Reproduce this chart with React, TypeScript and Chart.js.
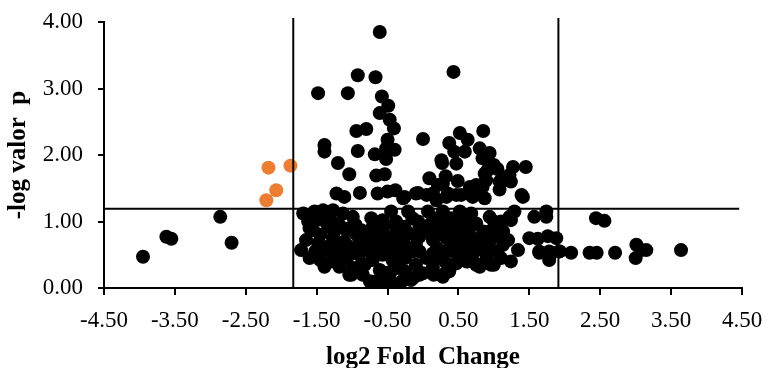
import { useEffect, useRef } from "react";
import { Chart, registerables } from "chart.js";

Chart.register(...registerables);

// [log2 fold change, -log10 p] for genes outside the significance window
const otherGenes: [number, number][] = [
  // far left
  [-3.95, 0.47], [-3.62, 0.77], [-3.55, 0.74], [-2.86, 1.07], [-2.7, 0.68],
  // upper group
  [-0.61, 3.85], [0.43, 3.25], [-0.92, 3.2], [-0.67, 3.17], [-1.48, 2.93], [-1.06, 2.93],
  [-0.58, 2.88], [-0.49, 2.74], [-0.61, 2.63], [-0.47, 2.53], [-0.41, 2.4], [-0.94, 2.36],
  [-0.8, 2.39], [0.85, 2.36], [0.0, 2.24], [0.52, 2.33], [0.63, 2.23], [0.37, 2.18],
  [-1.39, 2.15], [-1.39, 2.05], [-0.92, 2.06], [-0.5, 2.23], [-0.52, 2.1], [-0.4, 2.08],
  [-0.68, 2.01], [0.44, 2.05], [0.59, 2.05], [0.8, 2.1], [0.94, 2.03], [0.26, 1.92],
  [-1.2, 1.88], [-1.04, 1.71], [-0.66, 1.69], [-0.54, 1.71], [-0.52, 1.94],
  [-1.22, 1.42], [-1.11, 1.37], [-0.89, 1.43], [-0.64, 1.42], [-0.5, 1.45], [-0.39, 1.47],
  [-0.26, 1.37], [-0.07, 1.43], [0.09, 1.65], [0.27, 1.88], [0.32, 1.68], [0.28, 1.57],
  [0.49, 1.61], [0.47, 1.87], [0.84, 1.95], [0.91, 1.77], [1.05, 1.79], [1.27, 1.82],
  [1.45, 1.82], [1.22, 1.7], [1.08, 1.6], [1.24, 1.6], [0.89, 1.62], [0.84, 1.52],
  [1.08, 1.48], [1.39, 1.4], [0.75, 1.47], [0.66, 1.42], [0.54, 1.4], [0.14, 1.42],
  [0.05, 1.4], [0.87, 1.72], [0.75, 1.55], [0.21, 1.55], [0.35, 1.42], [0.7, 1.37],
  [0.66, 1.52], [0.87, 1.35], [-0.28, 1.35], [-0.1, 1.42], [0.19, 1.32], [1.41, 1.37],
  [0.33, 1.37], [0.47, 1.4], [1.13, 1.62], [1.0, 1.85],
  // right side
  [2.44, 1.05], [2.56, 1.01], [3.64, 0.57], [3.01, 0.65], [3.0, 0.45], [3.15, 0.57],
  [3.08, 0.57], [2.71, 0.53], [2.45, 0.53], [2.35, 0.53], [2.09, 0.53], [1.93, 0.55],
  [1.78, 0.45], [1.64, 0.53], [1.5, 0.75], [1.76, 0.78], [1.88, 0.75], [1.62, 0.74],
  [1.57, 1.07], [1.74, 1.15], [1.74, 1.07], [1.34, 0.57], [1.24, 0.4], [1.13, 0.85],
  [1.01, 0.85], [1.13, 0.65], [0.84, 0.75], [0.94, 1.07], [1.29, 1.15], [1.24, 1.02],
  [1.22, 1.07], [1.64, 0.55], [1.78, 0.55], [1.92, 0.55], [1.78, 0.42],
  // central cluster
  [-1.69, 1.12], [-1.53, 1.15], [-1.41, 1.17], [-1.27, 1.17], [-1.13, 1.12], [-0.99, 1.07],
  [-0.73, 1.05], [-0.57, 1.02], [-1.55, 0.87], [-1.34, 0.92], [-1.18, 0.95], [-1.04, 0.9],
  [-0.87, 0.87], [-0.71, 0.92], [-0.57, 0.82], [-1.22, 0.92], [-1.08, 0.87],
  [-1.27, 0.75], [-1.11, 0.7], [-0.9, 0.72], [-0.66, 0.67], [-1.48, 0.67], [-1.08, 0.65],
  [-0.75, 0.67], [-0.57, 0.72], [-1.72, 0.57], [-1.6, 0.45], [-1.41, 0.57], [-1.27, 0.52],
  [-1.06, 0.47], [-0.9, 0.5], [-0.73, 0.52], [-0.54, 0.57], [-0.8, 0.6], [-0.57, 0.5],
  [-1.39, 0.32], [-1.18, 0.32], [-1.01, 0.2], [-0.82, 0.35], [-0.61, 0.27], [-0.75, 0.1],
  [-0.61, 0.1], [-1.13, 0.42], [-0.71, 0.42], [-0.43, 0.42], [-0.99, 0.3], [-0.33, 0.3],
  [-0.66, 0.1], [-0.47, 0.12], [-1.04, 0.2],
  [-0.45, 1.15], [-0.21, 1.15], [0.07, 1.15], [0.28, 1.15], [0.52, 1.15], [0.68, 1.12],
  [-0.54, 0.95], [-0.38, 1.0], [-0.26, 0.92], [-0.07, 1.0], [0.12, 0.97], [0.33, 0.97],
  [0.54, 1.0], [0.7, 0.95], [-0.38, 0.92], [0.09, 0.95], [0.28, 0.97], [0.47, 0.95],
  [0.61, 0.9], [0.75, 0.97], [0.94, 0.85],
  [-0.4, 0.8], [-0.05, 0.77], [0.14, 0.75], [0.33, 0.75], [0.52, 0.75], [0.68, 0.77],
  [-0.28, 0.7], [0.14, 0.72], [0.37, 0.72], [0.56, 0.7], [0.75, 0.65], [0.94, 0.7],
  [1.08, 0.77],
  [-0.57, 0.62], [-0.38, 0.62], [-0.14, 0.57], [0.14, 0.52], [-0.14, 0.55], [0.56, 0.57],
  [0.75, 0.6], [0.94, 0.57], [0.84, 0.57], [0.96, 0.57],
  [0.33, 0.37], [0.47, 0.37], [0.63, 0.4], [0.75, 0.35], [0.14, 0.32], [0.61, 0.4],
  [0.8, 0.32], [0.8, 0.35], [0.96, 0.35], [1.0, 0.35],
  [-0.36, 0.37], [-0.52, 0.22], [-0.14, 0.15], [0.0, 0.22], [0.28, 0.2], [-0.38, 0.02],
  [0.37, 0.25], [-0.05, 0.2], [0.28, 0.17], [-0.17, 0.12],
  [-1.62, 1.0], [-1.45, 1.03], [-1.3, 1.02], [-1.45, 0.8], [-1.65, 0.72], [-1.35, 0.62],
  [-1.2, 0.62], [-1.52, 0.55], [-1.3, 0.4], [-0.95, 0.95], [-0.8, 0.78], [-0.95, 0.6],
  [-0.65, 0.8], [-0.45, 0.7], [-0.45, 0.5], [-0.25, 0.45], [-0.2, 0.82], [-0.1, 0.65],
  [0.05, 0.85], [0.2, 0.6], [0.25, 0.85], [0.42, 0.85], [0.42, 0.55], [0.6, 0.82],
  [0.65, 0.55], [0.85, 0.85], [1.0, 1.0], [1.05, 0.55], [1.2, 0.72], [-0.85, 0.2],
  [-0.9, 0.32], [-0.45, 0.25], [-0.25, 0.25], [0.15, 0.2], [-0.3, 0.1], [-0.55, 0.05],
  [-0.15, 1.05], [0.0, 0.9], [0.2, 1.05], [0.4, 1.05], [0.6, 1.07], [-0.3, 0.55],
  [0.3, 0.55], [0.5, 0.5], [0.7, 0.5], [0.9, 0.45], [1.1, 0.45], [-0.95, 0.82],
  [-1.15, 0.55], [-1.45, 0.42], [0.05, 0.45], [0.25, 0.45], [-0.1, 0.35], [-0.05, 0.9],
  [0.2, 0.8], [-0.75, 0.8], [-1.25, 0.85], [-0.3, 0.82], [1.1, 1.0], [-1.6, 0.9],
  [0.45, 0.65], [0.65, 0.68], [-0.05, 0.55],
];

// genes below the fold-change cut-off with a significant p value
const significantGenes: [number, number][] = [
  [-2.18, 1.81], [-1.87, 1.84], [-2.07, 1.47], [-2.21, 1.32],
];

const foldTicks = [-4.5, -3.5, -2.5, -1.5, -0.5, 0.5, 1.5, 2.5, 3.5, 4.5];
const pTicks = [0, 1, 2, 3, 4];

// cut-off guide lines
const foldCutoffs = [-1.83, 1.91];
const pCutoff = 1.19;
const guideTop = 4.06;
const guideRight = 4.46;

const xTitle = "log2 Fold  Change";
const yTitle = "-log valor  p";

const serif = "'Liberation Serif', 'Times New Roman', serif";

// let the layout padding alone decide where the plot area sits
const noScalePadding = (s: any) => {
  s.paddingTop = 0;
  s.paddingBottom = 0;
  s.paddingLeft = 0;
  s.paddingRight = 0;
};

export default function App() {
  const canvasRef = useRef<HTMLCanvasElement | null>(null);

  useEffect(() => {
    const canvas = canvasRef.current;
    if (!canvas) return;

    const guide = (pts: { x: number; y: number }[]) => ({
      type: "scatter" as const,
      data: pts,
      showLine: true,
      borderColor: "#000",
      borderWidth: 2,
      pointRadius: 0,
      pointHoverRadius: 0,
      fill: false,
      clip: false as const,
      order: 0,
    });

    const tickFont = { family: serif, size: 23 };
    const titleFont = { family: serif, size: 25, weight: "bold" as const };

    const chart = new Chart(canvas, {
      type: "scatter",
      data: {
        datasets: [
          ...foldCutoffs.map((c) =>
            guide([
              { x: c, y: 0 },
              { x: c, y: guideTop },
            ])
          ),
          guide([
            { x: foldTicks[0], y: pCutoff },
            { x: guideRight, y: pCutoff },
          ]),
          {
            data: significantGenes.map(([x, y]) => ({ x, y })),
            backgroundColor: "#ED7D31",
            borderWidth: 0,
            pointRadius: 7,
            order: 1,
          },
          {
            data: otherGenes.map(([x, y]) => ({ x, y })),
            backgroundColor: "#000",
            borderWidth: 0,
            pointRadius: 7,
            order: 2,
          },
        ],
      },
      options: {
        responsive: false,
        animation: false,
        layout: { padding: { top: 22, right: 26, left: 0, bottom: 0 } },
        plugins: { legend: { display: false }, tooltip: { enabled: false } },
        scales: {
          x: {
            type: "linear",
            min: foldTicks[0],
            max: foldTicks[foldTicks.length - 1],
            afterBuildTicks: (s: any) => {
              s.ticks = foldTicks.map((v) => ({ value: v }));
            },
            afterFit: (s: any) => {
              s.height = 80;
              noScalePadding(s);
            },
            grid: {
              display: true,
              drawOnChartArea: false,
              drawTicks: true,
              tickLength: 7,
              color: "#000",
              tickColor: "#000",
              lineWidth: 2,
            },
            border: { display: true, color: "#000", width: 2 },
            ticks: {
              font: tickFont,
              color: "#000",
              padding: 12,
              maxRotation: 0,
              autoSkip: false,
              callback: (v: any) => Number(v).toFixed(2),
            },
            title: {
              display: true,
              text: xTitle,
              color: "#000",
              font: titleFont,
              padding: { top: 0, bottom: -5 },
            },
          },
          y: {
            type: "linear",
            min: pTicks[0],
            max: pTicks[pTicks.length - 1],
            afterBuildTicks: (s: any) => {
              s.ticks = pTicks.map((v) => ({ value: v }));
            },
            afterFit: (s: any) => {
              s.width = 104;
              noScalePadding(s);
            },
            grid: {
              display: true,
              drawOnChartArea: false,
              drawTicks: true,
              tickLength: 6,
              color: "#000",
              tickColor: "#000",
              lineWidth: 2,
            },
            border: { display: true, color: "#000", width: 2 },
            ticks: {
              font: tickFont,
              color: "#000",
              padding: 15,
              autoSkip: false,
              callback: (v: any) => Number(v).toFixed(2),
            },
            title: {
              display: true,
              text: yTitle,
              color: "#000",
              font: titleFont,
              padding: { top: 4, bottom: 0 },
            },
          },
        },
      },
    });

    return () => chart.destroy();
  }, []);

  return (
    <div style={{ position: "absolute", left: 0, top: 0, width: 768, height: 368, background: "#fff" }}>
      <canvas ref={canvasRef} width={768} height={368} />
    </div>
  );
}
